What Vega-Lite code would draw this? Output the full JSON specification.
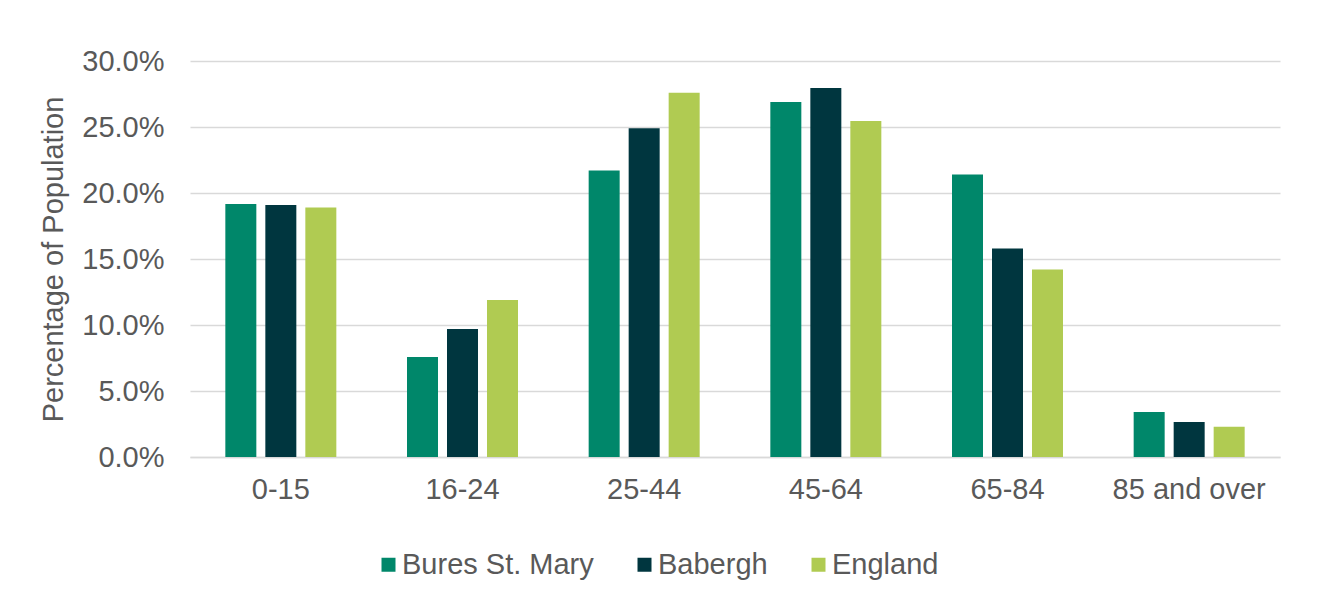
{
  "$schema": "https://vega.github.io/schema/vega-lite/v6.json",
  "width": 1090,
  "height": 396,
  "autosize": "none",
  "padding": {"left": 190, "top": 61, "right": 39, "bottom": 149},
  "background": "white",
  "config": {"view": {"stroke": null}, "font": "Liberation Sans"},
  "data": {
    "values": [
      {"age": "0-15", "area": "Bures St. Mary", "pct": 0.1917},
      {"age": "0-15", "area": "Babergh", "pct": 0.191},
      {"age": "0-15", "area": "England", "pct": 0.189},
      {"age": "16-24", "area": "Bures St. Mary", "pct": 0.0758},
      {"age": "16-24", "area": "Babergh", "pct": 0.097},
      {"age": "16-24", "area": "England", "pct": 0.119},
      {"age": "25-44", "area": "Bures St. Mary", "pct": 0.217},
      {"age": "25-44", "area": "Babergh", "pct": 0.249},
      {"age": "25-44", "area": "England", "pct": 0.276},
      {"age": "45-64", "area": "Bures St. Mary", "pct": 0.269},
      {"age": "45-64", "area": "Babergh", "pct": 0.2795},
      {"age": "45-64", "area": "England", "pct": 0.2545},
      {"age": "65-84", "area": "Bures St. Mary", "pct": 0.214},
      {"age": "65-84", "area": "Babergh", "pct": 0.158},
      {"age": "65-84", "area": "England", "pct": 0.142},
      {"age": "85 and over", "area": "Bures St. Mary", "pct": 0.034},
      {"age": "85 and over", "area": "Babergh", "pct": 0.0265},
      {"age": "85 and over", "area": "England", "pct": 0.023}
    ]
  },
  "mark": {"type": "bar"},
  "encoding": {
    "x": {
      "field": "age",
      "type": "nominal",
      "sort": ["0-15", "16-24", "25-44", "45-64", "65-84", "85 and over"],
      "scale": {"paddingInner": 0.389, "paddingOuter": 0.1945},
      "axis": {
        "title": null,
        "labelAngle": 0,
        "labelFontSize": 29,
        "labelColor": "#595959",
        "ticks": false,
        "domainColor": "#d9d9d9",
        "domainWidth": 1.5,
        "labelPadding": 18
      }
    },
    "xOffset": {
      "field": "area",
      "sort": ["Bures St. Mary", "Babergh", "England"],
      "scale": {"paddingInner": 0.225, "paddingOuter": 0}
    },
    "y": {
      "field": "pct",
      "type": "quantitative",
      "scale": {"domain": [0, 0.3]},
      "axis": {
        "title": "Percentage of Population",
        "titleFontSize": 29,
        "titleFontWeight": "normal",
        "titleColor": "#595959",
        "titlePadding": 13,
        "values": [0, 0.05, 0.1, 0.15, 0.2, 0.25, 0.3],
        "format": ".1%",
        "labelFontSize": 29,
        "labelColor": "#595959",
        "labelPadding": 26,
        "ticks": false,
        "domain": false,
        "gridColor": "#d9d9d9",
        "gridWidth": 1.5
      }
    },
    "color": {
      "field": "area",
      "type": "nominal",
      "sort": ["Bures St. Mary", "Babergh", "England"],
      "scale": {
        "domain": ["Bures St. Mary", "Babergh", "England"],
        "range": ["#00876A", "#00363F", "#B0CB52"]
      },
      "legend": {
        "title": null,
        "orient": "none",
        "direction": "horizontal",
        "legendX": 184,
        "legendY": 489,
        "padding": 0,
        "symbolType": "square",
        "symbolSize": 196,
        "symbolStrokeWidth": 0,
        "labelFontSize": 29,
        "labelColor": "#595959",
        "labelOffset": -1,
        "columnPadding": 36,
        "labelLimit": 400
      }
    }
  }
}
